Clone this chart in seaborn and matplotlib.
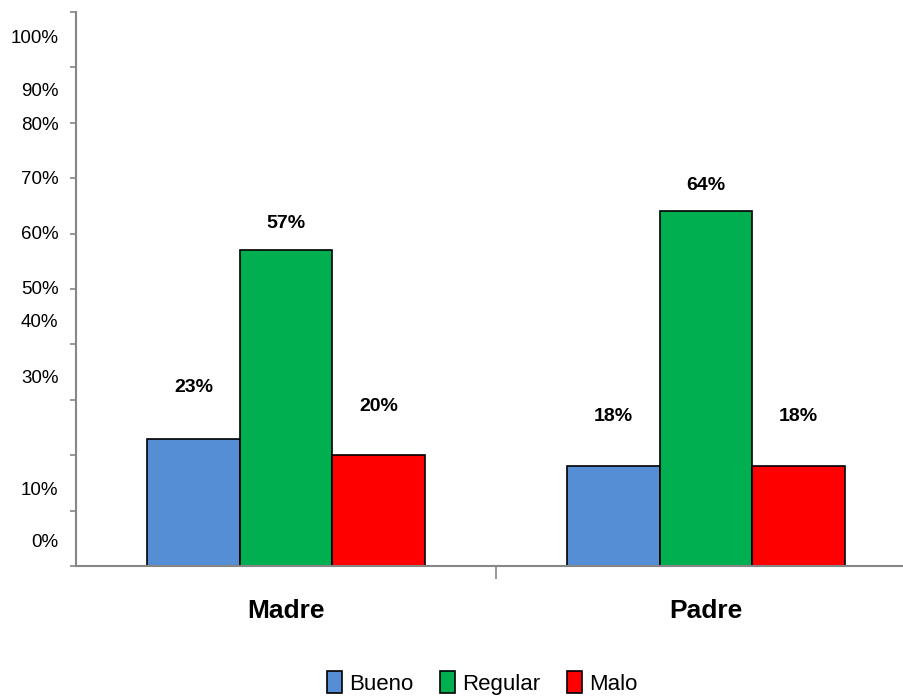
import numpy as np
import pandas as pd
import matplotlib
matplotlib.use("Agg")
import matplotlib.pyplot as plt
import seaborn as sns

# ─── DATA ───────────────────────────────────────────────────────────────────
categories = ["Madre", "Padre"]
series     = ["Bueno", "Regular", "Malo"]
values     = {
    "Bueno":   [0.23, 0.18],
    "Regular": [0.57, 0.64],
    "Malo":    [0.20, 0.18],
}
bar_labels = {
    "Bueno":   ["23%", "18%"],
    "Regular": ["57%", "64%"],
    "Malo":    ["20%", "18%"],
}
# tick labels as they appear in the original (not aligned to the tick marks)
ytick_text = ["0%", "10%", "30%", "40%", "50%", "60%", "70%", "80%", "90%", "100%"]
ytick_pos  = [0.042, 0.137, 0.338, 0.439, 0.50, 0.599, 0.697, 0.796, 0.856, 0.953]
# distance from bar top to label centre, in pixels
label_gap = {
    "Bueno":   [51, 50],
    "Regular": [27, 26],
    "Malo":    [49, 50],
}
colors = {"Bueno": "#558ED5", "Regular": "#00B050", "Malo": "#FF0000"}
# ─────────────────────────────────────────────────────────────────────────────

FONT = ["Liberation Sans", "DejaVu Sans"]
AXIS_GRAY = "#868686"

df = pd.DataFrame(
    [(c, s, values[s][i]) for s in series for i, c in enumerate(categories)],
    columns=["categoria", "serie", "valor"],
)

sns.set_style("white")
plt.rcParams["font.family"] = FONT
plt.rcParams["text.color"] = "black"
plt.rcParams["xtick.color"] = "black"
plt.rcParams["ytick.color"] = "black"

fig = plt.figure(figsize=(9.04, 7.0), dpi=100)
W, H = 904, 700
ax = fig.add_axes([76 / W, (H - 566) / H, 840 / W, 554 / H])

sns.barplot(data=df, x="categoria", y="valor", hue="serie", order=categories,
            hue_order=series, palette=colors, width=0.66, gap=0,
            edgecolor="black", linewidth=1.2, saturation=1, ax=ax, legend=False)

ax.set_xlim(-0.5, 1.5)
ax.set_ylim(0, 1.0)

# bar value labels
for s, cont in zip(series, ax.containers):
    for i, bar in enumerate(cont):
        x = bar.get_x() + bar.get_width() / 2
        ax.annotate(bar_labels[s][i], (x, bar.get_height()),
                    xytext=(0, label_gap[s][i] * 0.72), textcoords="offset points",
                    ha="center", va="center", fontsize=14, fontweight="bold",
                    family=FONT)

# y axis: tick marks every 10%, labels drawn where the original has them
ax.set_yticks(np.arange(0, 1.01, 0.1))
ax.set_yticklabels([])
ax.tick_params(axis="y", direction="out", length=4, width=1.2, color=AXIS_GRAY, left=True)
for t, p in zip(ytick_text, ytick_pos):
    ax.text(-0.021, p, t, transform=ax.get_yaxis_transform(), ha="right",
            va="center", fontsize=13.5, family=FONT)

# x axis
ax.set_xticks([0.5], minor=True)
ax.tick_params(axis="x", which="minor", direction="out", length=9, width=1.2,
               color=AXIS_GRAY, bottom=True)
ax.tick_params(axis="x", which="major", length=0, pad=24, labelsize=19)
for lbl in ax.get_xticklabels():
    lbl.set_fontweight("bold")
ax.set_xlabel("")
ax.set_ylabel("")

for side in ["top", "right"]:
    ax.spines[side].set_visible(False)
for side in ["left", "bottom"]:
    ax.spines[side].set_color(AXIS_GRAY)
    ax.spines[side].set_linewidth(1.5)

# legend
handles = [plt.Rectangle((0, 0), 1, 1, facecolor=colors[s], edgecolor="black",
                         linewidth=1.2) for s in series]
fig.legend(handles, series, loc="center", bbox_to_anchor=(482 / W, (H - 683) / H),
           ncol=3, frameon=False, fontsize=16, handlelength=0.7, handleheight=1.1,
           handletextpad=0.3, columnspacing=1.2)

fig.savefig("out.png", dpi=100)
